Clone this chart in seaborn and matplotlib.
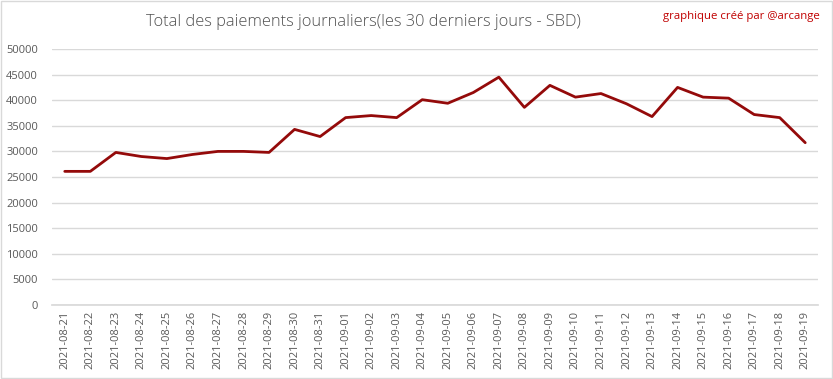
import matplotlib
matplotlib.use("Agg")
import matplotlib.pyplot as plt
import seaborn as sns
import pandas as pd
from matplotlib.patches import Rectangle

# daily payouts, last 30 days (SBD)
dates = ["2021-08-21", "2021-08-22", "2021-08-23", "2021-08-24", "2021-08-25",
         "2021-08-26", "2021-08-27", "2021-08-28", "2021-08-29", "2021-08-30",
         "2021-08-31", "2021-09-01", "2021-09-02", "2021-09-03", "2021-09-04",
         "2021-09-05", "2021-09-06", "2021-09-07", "2021-09-08", "2021-09-09",
         "2021-09-10", "2021-09-11", "2021-09-12", "2021-09-13", "2021-09-14",
         "2021-09-15", "2021-09-16", "2021-09-17", "2021-09-18", "2021-09-19"]
payouts = [26100, 26100, 29800, 29000, 28600, 29400, 30000, 30000, 29800, 34300,
           32900, 36600, 37000, 36600, 40100, 39400, 41500, 44500, 38600, 42900,
           40600, 41300, 39300, 36800, 42500, 40600, 40400, 37200, 36600, 31700]
y_ticks = list(range(0, 50001, 5000))

df = pd.DataFrame({"date": dates, "sbd": payouts})

sns.set_theme(style="white")
plt.rcParams["font.family"] = ["Open Sans", "DejaVu Sans"]

fig = plt.figure(figsize=(8.33, 3.79), dpi=100)
ax = fig.add_axes([52 / 833, 1 - 305 / 379, (818 - 52) / 833, (305 - 49) / 379])

sns.lineplot(data=df, x="date", y="sbd", ax=ax, color="#940A0A", linewidth=2.0)

ax.set_xlim(-0.5, len(dates) - 0.5)
ax.set_ylim(0, 50000)
ax.set_yticks(y_ticks)
ax.set_yticklabels([str(t) for t in y_ticks])
ax.yaxis.grid(True, color="#D9D9D9", linewidth=1)
ax.set_axisbelow(True)
for s in ["top", "right", "left"]:
    ax.spines[s].set_visible(False)
ax.spines["bottom"].set_color("#D9D9D9")
ax.tick_params(axis="x", rotation=90, labelsize=8, colors="#595959", length=0, pad=4)
ax.tick_params(axis="y", labelsize=8, colors="#595959", length=0, pad=10)
ax.set_xlabel("")
ax.set_ylabel("")

fig.text(363 / 833, 1 - 22 / 379, "Total des paiements journaliers(les 30 derniers jours - SBD)",
         ha="center", va="center", fontsize=11.8, color="#505050", fontweight="light")
fig.text(820 / 833, 1 - 16 / 379, "graphique créé par @arcange",
         ha="right", va="center", fontsize=8.2, color="#C00000")

fig.patches.append(Rectangle((1 / 833, 1 / 379), 831 / 833, 377 / 379, transform=fig.transFigure,
                             fill=False, edgecolor="#D9D9D9", linewidth=1))

fig.savefig("out.png", dpi=100)
